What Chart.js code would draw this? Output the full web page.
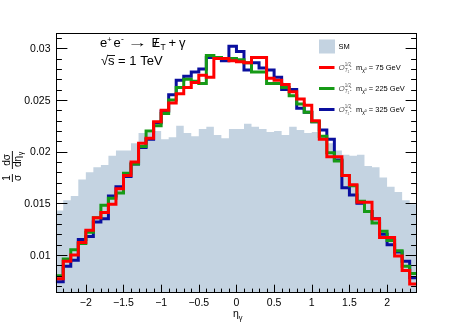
<!DOCTYPE html>
<html>
<head>
<meta charset="utf-8">
<script src="https://cdn.jsdelivr.net/npm/chart.js@4.4.0/dist/chart.umd.min.js"></script>
<style>
  html, body { margin: 0; padding: 0; background: #fff; }
  #wrap { width: 464px; height: 334px; }
</style>
</head>
<body>
<div id="wrap"><canvas id="etaChart" width="464" height="334"></canvas></div>
<script>
// bin edges of the eta_gamma histogram (48 bins)
var binEdges = [-2.4, -2.3, -2.2, -2.1, -2.0, -1.9, -1.8, -1.7, -1.6, -1.5, -1.4, -1.3, -1.2, -1.1, -1.0, -0.9,
  -0.8, -0.7, -0.6, -0.5, -0.4, -0.3, -0.2, -0.1, 0.0, 0.1, 0.2, 0.3, 0.4, 0.5, 0.6, 0.7, 0.8, 0.9, 1.0, 1.1,
  1.2, 1.3, 1.4, 1.5, 1.6, 1.7, 1.8, 1.9, 2.0, 2.1, 2.2, 2.3, 2.4];

var smValues = [0.0143, 0.0153, 0.0157, 0.0173, 0.0180, 0.0185, 0.0187, 0.0196, 0.0201, 0.0201, 0.0208, 0.0218,
  0.0218, 0.0220, 0.0212, 0.0214, 0.0225, 0.0218, 0.0215, 0.0222, 0.0224, 0.0216, 0.0213, 0.0222,
  0.0222, 0.0227, 0.0224, 0.0222, 0.0219, 0.0220, 0.0216, 0.0224, 0.0221, 0.0218, 0.0219, 0.0216,
  0.0208, 0.0201, 0.0197, 0.0196, 0.0197, 0.0186, 0.0185, 0.0175, 0.0166, 0.0161, 0.0153, 0.0149];

var m75Values = [0.0077, 0.0094, 0.0100, 0.0112, 0.0124, 0.0136, 0.0141, 0.0149, 0.0164, 0.0177, 0.0190, 0.0208,
  0.0213, 0.0229, 0.0240, 0.0247, 0.0256, 0.0262, 0.0267, 0.0274, 0.0272, 0.0290, 0.0290, 0.0288,
  0.0287, 0.0286, 0.0291, 0.0291, 0.0271, 0.0269, 0.0265, 0.0258, 0.0251, 0.0245, 0.0230, 0.0212,
  0.0195, 0.0195, 0.0177, 0.0168, 0.0151, 0.0151, 0.0135, 0.0117, 0.0117, 0.0099, 0.0085, 0.0072];

var m225Values = [0.0080, 0.0096, 0.0105, 0.0111, 0.0122, 0.0136, 0.0148, 0.0155, 0.0160, 0.0179, 0.0188, 0.0205,
  0.0220, 0.0225, 0.0237, 0.0250, 0.0262, 0.0270, 0.0268, 0.0266, 0.0293, 0.0291, 0.0290, 0.0290,
  0.0289, 0.0286, 0.0277, 0.0277, 0.0266, 0.0266, 0.0262, 0.0254, 0.0246, 0.0238, 0.0229, 0.0215,
  0.0199, 0.0191, 0.0177, 0.0167, 0.0152, 0.0142, 0.0131, 0.0123, 0.0114, 0.0104, 0.0089, 0.0082];

var m325Values = [0.0074, 0.0089, 0.0095, 0.0115, 0.0118, 0.0132, 0.0135, 0.0157, 0.0166, 0.0176, 0.0188, 0.0204,
  0.0212, 0.0228, 0.0239, 0.0255, 0.0269, 0.0273, 0.0277, 0.0280, 0.0291, 0.0291, 0.0288, 0.0302,
  0.0297, 0.0279, 0.0286, 0.0281, 0.0279, 0.0272, 0.0260, 0.0260, 0.0242, 0.0238, 0.0229, 0.0221,
  0.0212, 0.0192, 0.0165, 0.0158, 0.0150, 0.0142, 0.0135, 0.0120, 0.0110, 0.0103, 0.0094, 0.0078];

var xTicks = [-2, -1.5, -1, -0.5, 0, 0.5, 1, 1.5, 2];
var xTickLabels = ["\u22122", "\u22121.5", "\u22121", "\u22120.5", "0", "0.5", "1", "1.5", "2"];
var yTicks = [0.01, 0.015, 0.02, 0.025, 0.03];
var yTickLabels = ["0.01", "0.015", "0.02", "0.025", "0.03"];
var yMinorTicks = [0.007, 0.008, 0.009, 0.011, 0.012, 0.013, 0.014, 0.016, 0.017, 0.018, 0.019, 0.021,
  0.022, 0.023, 0.024, 0.026, 0.027, 0.028, 0.029, 0.031];
var legendMasses = ["75", "225", "325"];

var smColor = "rgb(196, 211, 225)";
var lineColors = ["#ff0000", "#169a16", "#0a0f9e"];
var FONT = '"Liberation Sans", Arial, Helvetica, sans-serif';

function toPoints(vals) {
  var pts = vals.map(function (v, i) {
    return { x: binEdges[i], y: v };
  });
  pts.push({ x: binEdges[binEdges.length - 1], y: vals[vals.length - 1] });
  return pts;
}

function histLine(label, vals, color, order) {
  return {
    label: label,
    data: toPoints(vals),
    stepped: true,
    borderColor: color,
    borderWidth: 3,
    pointRadius: 0,
    fill: false,
    order: order,
  };
}

// draws a run of text pieces, returns the x where it ends
function drawParts(ctx, x, y, parts) {
  parts.forEach(function (p) {
    ctx.font = (p.it ? "italic " : "") + p.s + "px " + FONT;
    ctx.fillStyle = p.c || "#000";
    ctx.fillText(p.t, x, y + (p.dy || 0));
    if (!p.stay) x += ctx.measureText(p.t).width + (p.gap || 0);
  });
  return x;
}

function txt(ctx, t, x, y, size) {
  ctx.font = size + "px " + FONT;
  ctx.fillText(t, x, y);
}

var decor = {
  id: "decor",
  afterDatasetsDraw: function (chart) {
    var ctx = chart.ctx;
    var a = chart.chartArea;
    var xs = chart.scales.x;
    var ys = chart.scales.y;
    var L = Math.round(a.left) + 0.5, R = Math.round(a.right) - 0.5;
    var T = Math.round(a.top) + 0.5, B = Math.round(a.bottom) - 0.5;
    ctx.save();
    ctx.strokeStyle = "#000";
    ctx.lineWidth = 1;
    ctx.strokeRect(L, T, R - L, B - T);

    // x ticks (inside, bottom only)
    ctx.beginPath();
    binEdges.forEach(function (v) {
      var major = xTicks.some(function (t) { return Math.abs(t - v) < 1e-6; });
      var px = Math.round(xs.getPixelForValue(v)) + 0.5;
      if (px <= L + 1 || px >= R - 1) return;
      ctx.moveTo(px, B);
      ctx.lineTo(px, B - (major ? 7.8 : 3.9));
    });
    // y ticks on both sides
    yTicks.concat(yMinorTicks).forEach(function (v) {
      var major = yTicks.indexOf(v) >= 0;
      var py = Math.round(ys.getPixelForValue(v)) + 0.5;
      var len = major ? 10.9 : 5.4;
      ctx.moveTo(L, py);
      ctx.lineTo(L + len, py);
      ctx.moveTo(R, py);
      ctx.lineTo(R - len, py);
    });
    ctx.stroke();

    // tick labels
    ctx.fillStyle = "#000";
    ctx.font = "10.5px " + FONT;
    ctx.textAlign = "center";
    ctx.textBaseline = "alphabetic";
    xTicks.forEach(function (v, i) {
      ctx.fillText(xTickLabels[i], xs.getPixelForValue(v), 306);
    });
    ctx.textAlign = "right";
    yTicks.forEach(function (v, i) {
      ctx.fillText(yTickLabels[i], 50.5, ys.getPixelForValue(v) + 3.8);
    });

    // x title: eta_gamma
    ctx.textAlign = "left";
    drawParts(ctx, 233, 317, [
      { t: "\u03b7", s: 10.5 },
      { t: "\u03b3", s: 7.5, dy: 3 },
    ]);

    // y title: 1/sigma dsigma/deta_gamma (rotated)
    ctx.save();
    ctx.translate(12.5, 163);
    ctx.rotate(-Math.PI / 2);
    ctx.textAlign = "center";
    ctx.font = "10px " + FONT;
    ctx.fillText("1", -15, -2.2);
    ctx.fillText("\u03c3", -15, 8);
    ctx.fillText("d\u03c3", 3, -2.2);
    ctx.fillText("d\u03b7", 1.5, 8);
    ctx.font = "7px " + FONT;
    ctx.fillText("\u03b3", 9.5, 10);
    ctx.fillRect(-19, -0.6, 8, 0.9);
    ctx.fillRect(-6, -0.6, 18, 0.9);
    ctx.restore();

    // process text, placed piece by piece
    ctx.textAlign = "left";
    ctx.fillStyle = "#000";
    txt(ctx, "e", 100, 47, 13);
    txt(ctx, "+", 107.3, 41.5, 7.5);
    txt(ctx, "e", 113.5, 47, 13);
    txt(ctx, "-", 121, 41.5, 8.5);
    ctx.save();
    ctx.translate(127, 47);
    ctx.scale(1.55, 1);
    txt(ctx, "\u2192", 0, 0, 13);
    ctx.restore();
    txt(ctx, "E", 151.5, 47, 13);
    txt(ctx, "/", 154, 47, 13);
    txt(ctx, "T", 160.5, 50, 8.5);
    txt(ctx, "+", 168.5, 47, 13);
    txt(ctx, "\u03b3", 179, 47, 13);

    txt(ctx, "\u221a", 101, 65, 13);
    txt(ctx, "s = 1 TeV", 108, 65, 13);
    ctx.fillRect(107.5, 55, 7.5, 0.9);

    // legend
    ctx.fillStyle = smColor;
    ctx.fillRect(319, 39.5, 16, 14);
    drawParts(ctx, 338.5, 49, [{ t: "SM", s: 7.5 }]);
    var rows = [67.5, 88.5, 109.5];
    rows.forEach(function (ry, i) {
      ctx.fillStyle = lineColors[i];
      ctx.fillRect(319, ry - 1.5, 15.5, 3);
      drawParts(ctx, 338.5, ry + 2.5, [
        { t: "O", s: 8, it: true, c: "#555" },
        { t: "1/2", s: 4.5, dy: -4, c: "#555", stay: true },
        { t: "T", s: 4.5, it: true, dy: 2, c: "#555" },
        { t: "1", s: 3.2, dy: 3, c: "#555", gap: 0.5 },
        { t: ":  m", s: 7.5 },
        { t: "\u03c7", s: 5, dy: 2 },
        { t: "0", s: 3.3, dy: -0.5 },
        { t: " = " + legendMasses[i] + " GeV", s: 7.5 },
      ]);
    });
    ctx.restore();
  },
};

new Chart(document.getElementById("etaChart"), {
  type: "line",
  data: {
    datasets: [
      {
        label: "SM",
        data: toPoints(smValues),
        stepped: true,
        fill: "start",
        backgroundColor: smColor,
        borderColor: smColor,
        borderWidth: 0,
        pointRadius: 0,
        order: 4,
      },
      histLine("m = 325 GeV", m325Values, lineColors[2], 3),
      histLine("m = 225 GeV", m225Values, lineColors[1], 2),
      histLine("m = 75 GeV", m75Values, lineColors[0], 1),
    ],
  },
  options: {
    responsive: false,
    animation: false,
    layout: { padding: { left: 55.7, right: 46.8, top: 33.3, bottom: 41.3 } },
    plugins: { legend: { display: false }, tooltip: { enabled: false } },
    scales: {
      x: { type: "linear", min: -2.4, max: 2.4, display: false },
      y: { type: "linear", min: 0.00635, max: 0.03145, display: false },
    },
  },
  plugins: [decor],
});
</script>
</body>
</html>
